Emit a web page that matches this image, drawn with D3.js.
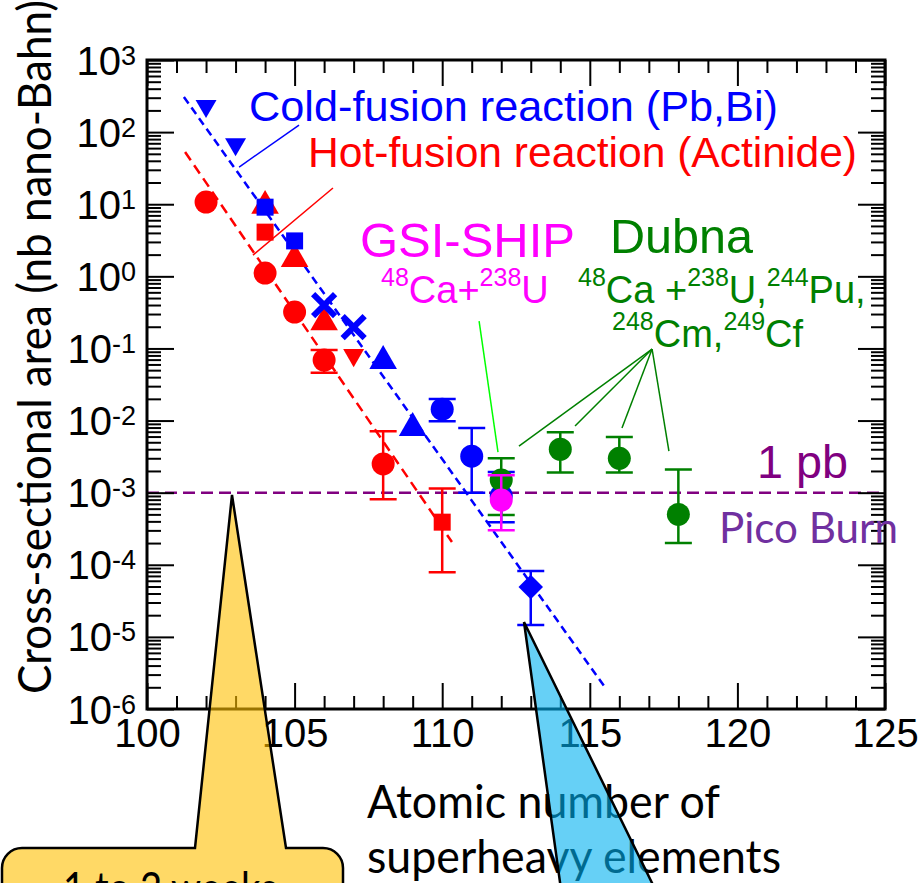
<!DOCTYPE html>
<html>
<head>
<meta charset="utf-8">
<script src="https://cdn.jsdelivr.net/npm/d3@7"></script>
<style>
  body { margin: 0; background: #fff; }
  svg { display: block; }
</style>
</head>
<body>
<div class="chart"></div>
<script>
// declare global values
const WIDTH = 918;
const HEIGHT = 883;
const PLOT = { left: 147, right: 885, top: 60, bottom: 709 };

// tick labels
const xTicks = [100, 105, 110, 115, 120, 125];
const yExps = [-6, -5, -4, -3, -2, -1, 0, 1, 2, 3];

// cold-fusion reactions (Pb, Bi) - blue
const coldZ = [102, 103, 104, 105, 106, 107, 108, 109, 110, 111, 112, 113];
const coldSigma = [230, 68, 9.1, 3.1, 0.4, 0.198, 0.067, 0.0079, 0.0144, 0.0032, 0.0009, 4.9e-5];
const coldShape = ["triDown", "triDown", "square", "square", "cross", "cross", "tri", "tri", "circle", "circle", "circle", "diamond"];
const coldLo = [null, null, null, null, null, null, null, null, 0.0098, 0.001, 0.00039, 1.46e-5];
const coldHi = [null, null, null, null, null, null, null, null, 0.0199, 0.0079, 0.00193, 8.2e-5];

// hot-fusion reactions (actinide) - red
const hotZ = [102, 104, 104, 104, 105, 105, 106, 106, 107, 108, 110];
const hotSigma = [10.7, 9.5, 4.1, 1.11, 1.74, 0.32, 0.23, 0.069, 0.081, 0.0025, 0.00039];
const hotShape = ["circle", "tri", "square", "circle", "tri", "circle", "tri", "circle", "triDown", "circle", "square"];
const hotLo = [null, null, null, null, null, null, null, 0.046, null, 0.00081, 7.9e-5];
const hotHi = [null, null, null, null, null, null, null, 0.095, null, 0.0071, 0.00114];

// GSI-SHIP (magenta) and Dubna (green)
const gsiZ = [112];
const gsiSigma = [0.00079];
const gsiLo = [0.0003];
const gsiHi = [0.00175];
const dubnaZ = [112, 114, 116, 118];
const dubnaSigma = [0.0015, 0.004, 0.003, 0.0005];
const dubnaLo = [0.00049, 0.0019, 0.0019, 0.0002];
const dubnaHi = [0.003, 0.0069, 0.0059, 0.0021];

// systematics (dashed fits)
const coldFitZ = [101.25, 115.48];
const coldFitSigma = [307, 2.09e-6];
const hotFitZ = [101.29, 110.33];
const hotFitSigma = [53, 2.07e-4];
const onePb = 1e-3;

// leader lines in data space [Z, sigma]
const coldLeader = [[105.15, 125], [103.12, 32.8]];
const hotLeader = [[106.3, 16.8], [103.59, 1.97]];
const gsiLeader = [[111.25, 0.24], [111.89, 0.00366]];
const dubnaHub = [117.11, 0.098];
const dubnaEnds = [[112.6, 0.00443], [114.5, 0.0084], [116.09, 0.00787], [117.68, 0.00378]];

const COLORS = { cold: "#0000ff", hot: "#ff0000", gsi: "#ff00ff", dubna: "#008000" };

var svg = d3
  .select(".chart")
  .append("svg")
  .attr("width", WIDTH)
  .attr("height", HEIGHT)
  .style("background", "#fff");

// set the ranges
var x = d3.scaleLinear().domain([100, 125]).range([PLOT.left, PLOT.right]);
var y = d3.scaleLog().domain([1e-6, 1e3]).range([PLOT.bottom, PLOT.top]);

var line = d3
  .line()
  .x((d) => x(d[0]))
  .y((d) => y(d[1]));

// 1 pb line
svg
  .append("path")
  .attr("d", line([[100, onePb], [125, onePb]]))
  .attr("stroke", "#800080")
  .attr("stroke-width", 2.5)
  .attr("stroke-dasharray", "12,6")
  .attr("fill", "none");

// fit lines
const fits = [
  { z: coldFitZ, s: coldFitSigma, color: COLORS.cold, dash: "8,5" },
  { z: hotFitZ, s: hotFitSigma, color: COLORS.hot, dash: "10,6" },
];
fits.forEach(function (f) {
  svg
    .append("path")
    .attr("d", line(f.z.map((z, i) => [z, f.s[i]])))
    .attr("stroke", f.color)
    .attr("stroke-width", 2.5)
    .attr("stroke-dasharray", f.dash)
    .attr("fill", "none");
});

// marker shapes
const symbols = {
  circle: d3.symbol().type(d3.symbolCircle).size(415)(),
  square: d3.symbol().type(d3.symbolSquare).size(289)(),
  tri: d3.symbol().type(d3.symbolTriangle).size(330)(),
  triDown: d3.symbol().type(d3.symbolTriangle).size(190)(),
  diamond: d3.symbol().type(d3.symbolSquare).size(300)(),
  cross: "M-11,-11L11,11M-11,11L11,-11",
};
const rotations = { triDown: 180, diamond: 45 };

const drawSeries = (zs, sig, shapes, lo, hi, color) => {
  var g = svg.append("g");
  // error bars
  zs.forEach(function (z, i) {
    if (lo[i] == null) return;
    var cx = x(z);
    g.append("path")
      .attr(
        "d",
        `M${cx},${y(lo[i])}V${y(hi[i])}` +
          `M${cx - 13.5},${y(lo[i])}h27M${cx - 13.5},${y(hi[i])}h27`
      )
      .attr("stroke", color)
      .attr("stroke-width", 2.5)
      .attr("fill", "none");
  });
  // markers
  g.selectAll(".mark")
    .data(zs.map((z, i) => ({ z: z, s: sig[i], shape: shapes[i] })))
    .join("path")
    .attr("d", (d) => symbols[d.shape])
    .attr(
      "transform",
      (d) => `translate(${x(d.z)},${y(d.s)}) rotate(${rotations[d.shape] || 0})`
    )
    .attr("fill", (d) => (d.shape === "cross" ? "none" : color))
    .attr("stroke", (d) => (d.shape === "cross" ? color : "none"))
    .attr("stroke-width", 6);
};

drawSeries(hotZ, hotSigma, hotShape, hotLo, hotHi, COLORS.hot);
drawSeries(coldZ, coldSigma, coldShape, coldLo, coldHi, COLORS.cold);
drawSeries(dubnaZ, dubnaSigma, dubnaZ.map(() => "circle"), dubnaLo, dubnaHi, COLORS.dubna);
drawSeries(gsiZ, gsiSigma, ["circle"], gsiLo, gsiHi, COLORS.gsi);

// axes
const xMinor = d3.range(100, 126).filter((d) => d % 5 !== 0);
const yMajor = yExps.map((e) => Math.pow(10, e));
const yMinor = [];
yExps.slice(0, -1).forEach(function (e) {
  for (var k = 2; k <= 9; k++) yMinor.push(k * Math.pow(10, e));
});

const styleAxis = (g) => {
  g.select(".domain").remove();
  g.selectAll(".tick line").attr("stroke", "#000").attr("stroke-width", 2);
};

// bottom
svg
  .append("g")
  .attr("transform", `translate(0,${PLOT.bottom})`)
  .call(d3.axisBottom(x).tickValues(xMinor).tickSize(-13).tickFormat(""))
  .call(styleAxis);
svg
  .append("g")
  .attr("transform", `translate(0,${PLOT.bottom})`)
  .call(
    d3.axisBottom(x).tickValues(xTicks).tickSize(-26).tickPadding(10).tickFormat(d3.format("d"))
  )
  .call(styleAxis)
  .call((g) =>
    g
      .selectAll(".tick text")
      .attr("font-family", "Liberation Sans, Arial, sans-serif")
      .attr("font-size", 40)
      .attr("fill", "#000")
  );

// top
svg
  .append("g")
  .attr("transform", `translate(0,${PLOT.top})`)
  .call(d3.axisTop(x).tickValues(xMinor).tickSize(-13).tickFormat(""))
  .call(styleAxis);
svg
  .append("g")
  .attr("transform", `translate(0,${PLOT.top})`)
  .call(d3.axisTop(x).tickValues(xTicks).tickSize(-26).tickFormat(""))
  .call(styleAxis);

// left
svg
  .append("g")
  .attr("transform", `translate(${PLOT.left},0)`)
  .call(d3.axisLeft(y).tickValues(yMinor).tickSize(-14).tickFormat(""))
  .call(styleAxis);
svg
  .append("g")
  .attr("transform", `translate(${PLOT.left},0)`)
  .call(d3.axisLeft(y).tickValues(yMajor).tickSize(-27).tickPadding(11).tickFormat(() => "10"))
  .call(styleAxis)
  .call((g) =>
    g
      .selectAll(".tick text")
      .attr("font-family", "Liberation Sans, Arial, sans-serif")
      .attr("font-size", 40)
      .attr("fill", "#000")
      .attr("dy", null)
      .attr("y", 14)
      .each(function (d, i) {
        d3.select(this)
          .append("tspan")
          .attr("dy", -10)
          .attr("font-size", 27)
          .text(yExps[i] < 0 ? "-" + -yExps[i] : yExps[i]);
      })
  );

// right
svg
  .append("g")
  .attr("transform", `translate(${PLOT.right},0)`)
  .call(d3.axisRight(y).tickValues(yMinor).tickSize(-14).tickFormat(""))
  .call(styleAxis);
svg
  .append("g")
  .attr("transform", `translate(${PLOT.right},0)`)
  .call(d3.axisRight(y).tickValues(yMajor).tickSize(-27).tickFormat(""))
  .call(styleAxis);

// frame
svg
  .append("rect")
  .attr("x", PLOT.left)
  .attr("y", PLOT.top)
  .attr("width", PLOT.right - PLOT.left)
  .attr("height", PLOT.bottom - PLOT.top)
  .attr("fill", "none")
  .attr("stroke", "#000")
  .attr("stroke-width", 3);

// leader lines
const leaders = [
  { pts: coldLeader, color: COLORS.cold },
  { pts: hotLeader, color: COLORS.hot },
  { pts: gsiLeader, color: "#00ff00" },
].concat(dubnaEnds.map((e) => ({ pts: [dubnaHub, e], color: COLORS.dubna })));
leaders.forEach(function (l) {
  svg
    .append("path")
    .attr("d", line(l.pts))
    .attr("stroke", l.color)
    .attr("stroke-width", 1.5)
    .attr("fill", "none");
});

// labels
const ARIAL = "Liberation Sans, Arial, sans-serif";
const CALIBRI = "Lato, Carlito, sans-serif";

const addText = (txt, px, py, size, color, family, len) => {
  var t = svg
    .append("text")
    .attr("x", px)
    .attr("y", py)
    .attr("font-family", family || ARIAL)
    .attr("font-size", size)
    .attr("fill", color)
    .text(txt);
  if (len) t.attr("textLength", len).attr("lengthAdjust", "spacingAndGlyphs");
  return t;
};

addText("Cold-fusion reaction (Pb,Bi)", 249, 121, 43, COLORS.cold, ARIAL, 529);
addText("Hot-fusion reaction (Actinide)", 308, 167, 43, COLORS.hot, ARIAL, 549);
addText("GSI-SHIP", 360, 257, 48, COLORS.gsi, ARIAL, 215);
addText("Dubna", 610, 253, 48, COLORS.dubna, ARIAL, 143);
addText("1 pb", 757, 478, 47, "#800080", ARIAL, 91);
addText("Pico Burn", 719, 543, 42, "#7030a0", CALIBRI, 179);

// text with superscripts: parts alternate [sup, normal, sup, normal...]
const addSup = (parts, px, py, color) => {
  var t = svg
    .append("text")
    .attr("x", px)
    .attr("y", py)
    .attr("font-family", ARIAL)
    .attr("font-size", 38)
    .attr("fill", color);
  parts.forEach(function (p, i) {
    var sup = i % 2 === 0;
    t.append("tspan")
      .attr("font-size", sup ? 25 : 38)
      .attr("dy", i === 0 ? -17 : sup ? -17 : 17)
      .text(p);
  });
};
addSup(["48", "Ca+", "238", "U"], 381, 303, COLORS.gsi);
addSup(["48", "Ca +", "238", "U,", "244", "Pu,"], 578, 303, COLORS.dubna);
addSup(["248", "Cm,", "249", "Cf"], 612, 347, COLORS.dubna);

// axis titles
svg
  .append("text")
  .attr("transform", "translate(51,347) rotate(-90)")
  .attr("text-anchor", "middle")
  .attr("font-family", CALIBRI)
  .attr("font-size", 46)
  .attr("fill", "#000")
  .attr("textLength", 694)
  .attr("lengthAdjust", "spacingAndGlyphs")
  .text("Cross-sectional area (nb nano-Bahn)");

addText("Atomic number of", 367, 818, 47, "#000", CALIBRI, 353);
addText("superheavy elements", 367, 873, 47, "#000", CALIBRI, 414);

// callouts
svg
  .append("path")
  .attr(
    "d",
    "M2,940V868A20,20 0 0 1 22,848H195L232,495L286,848H323A20,20 0 0 1 343,868V940Z"
  )
  .attr("fill", "#ffc000")
  .attr("fill-opacity", 0.6)
  .attr("stroke", "#000")
  .attr("stroke-width", 2.5)
  .attr("stroke-linejoin", "miter");

addText("1 to 2 weeks", 170, 904, 45, "#000", CALIBRI, 214).attr("text-anchor", "middle");

svg
  .append("path")
  .attr("d", "M524,622L568,940H680Z")
  .attr("fill", "#00b0f0")
  .attr("fill-opacity", 0.6)
  .attr("stroke", "#000")
  .attr("stroke-width", 2.5);
</script>
</body>
</html>
